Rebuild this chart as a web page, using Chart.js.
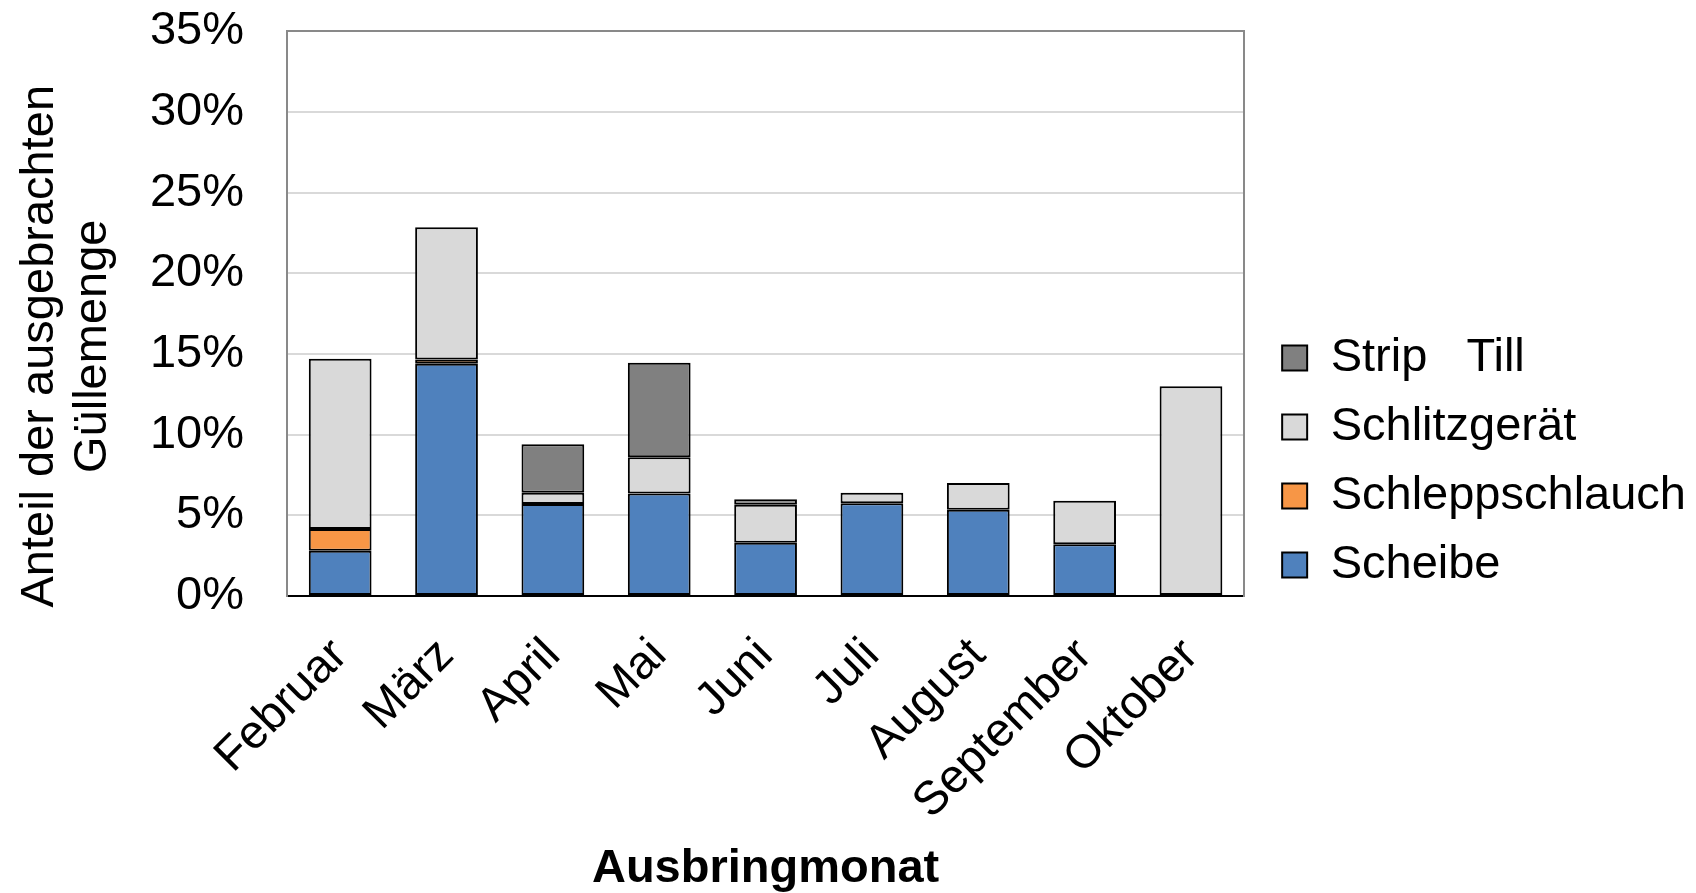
<!DOCTYPE html>
<html>
<head>
<meta charset="utf-8">
<script src="https://cdn.jsdelivr.net/npm/chart.js@4/dist/chart.umd.min.js"></script>
<style>
  html, body { margin: 0; padding: 0; background: #fff; }
  #box { width: 1696px; height: 893px; }
</style>
</head>
<body>
<div id="box"><canvas id="grafico"></canvas></div>
<script>
var monate = ["Februar", "März", "April", "Mai", "Juni", "Juli", "August", "September", "Oktober"];
var scheibe = [2.8, 14.4, 5.7, 6.35, 3.3, 5.75, 5.35, 3.2, null];
var schleppschlauch = [1.35, 0.25, null, null, null, null, null, null, null];
var schlitzgeraet = [10.55, 8.2, 0.7, 2.25, 2.35, 0.65, 1.65, 2.7, 13.0];
var stripTill = [null, null, 3.0, 5.85, 0.35, null, null, null, null];
var yTicks = [0, 5, 10, 15, 20, 25, 30, 35];

var schrift = "'Liberation Sans', Arial, sans-serif";
var grau = '#898989';

var context = document.getElementById("grafico");

var chartGraph = new Chart(context, {
    type: 'bar',
    data: {
        labels: monate,
        datasets: [
            { label: "Scheibe", data: scheibe, backgroundColor: '#4F81BD' },
            { label: "Schleppschlauch", data: schleppschlauch, backgroundColor: '#F79646' },
            { label: "Schlitzgerät", data: schlitzgeraet, backgroundColor: '#D9D9D9' },
            { label: "Strip   Till", data: stripTill, backgroundColor: '#808080' }
        ]
    },
    options: {
        responsive: true,
        maintainAspectRatio: false,
        animation: false,
        layout: { padding: { top: 30, right: 0, bottom: 0, left: 0 } },
        datasets: {
            bar: {
                borderColor: '#000',
                borderWidth: 2,
                borderSkipped: false,
                barPercentage: 0.59,
                categoryPercentage: 1
            }
        },
        plugins: {
            tooltip: { enabled: false },
            legend: {
                position: 'right',
                reverse: true,
                maxWidth: 600,
                labels: {
                    color: '#000',
                    boxWidth: 25,
                    boxHeight: 25,
                    padding: 22,
                    font: { family: schrift, size: 47 }
                }
            }
        },
        scales: {
            x: {
                stacked: true,
                grid: { display: true, drawOnChartArea: false, drawTicks: false },
                border: { display: true, color: '#000', width: 2 },
                ticks: {
                    color: '#000',
                    maxRotation: 45,
                    minRotation: 45,
                    padding: 32,
                    font: { family: schrift, size: 47 }
                },
                title: {
                    display: true,
                    text: 'Ausbringmonat',
                    color: '#000',
                    padding: { top: 0, bottom: 0 },
                    font: { family: schrift, size: 47, weight: 'bold', lineHeight: 1.0 }
                },
                afterFit: function(scale) { scale.height = 297; }
            },
            y: {
                stacked: true,
                min: 0,
                max: 35,
                afterBuildTicks: function(scale) {
                    scale.ticks = yTicks.map(function(v) { return { value: v }; });
                },
                grid: {
                    drawTicks: true,
                    tickLength: 40,
                    tickColor: 'rgba(0,0,0,0)',
                    lineWidth: 2,
                    color: function(c) {
                        return c.tick && c.tick.value === 35 ? grau : '#D9D9D9';
                    }
                },
                border: { display: true, color: grau, width: 2 },
                ticks: {
                    color: '#000',
                    padding: 3,
                    font: { family: schrift, size: 47 },
                    callback: function(v) { return v + '%'; }
                },
                title: {
                    display: true,
                    // trailing spaces push the title a bit down, like in the original
                    text: ['Anteil der ausgebrachten     ', 'Güllemenge     '],
                    color: '#000',
                    padding: { top: 13, bottom: 0 },
                    font: { family: schrift, size: 47, lineHeight: 1.13 }
                },
                afterFit: function(scale) { scale.width = 287; }
            },
            rechts: {
                type: 'linear',
                position: 'right',
                grid: { drawOnChartArea: false, drawTicks: false },
                border: { display: true, color: grau, width: 2 },
                ticks: { display: false },
                afterFit: function(scale) { scale.width = 16; }
            }
        }
    }
});
</script>
</body>
</html>
